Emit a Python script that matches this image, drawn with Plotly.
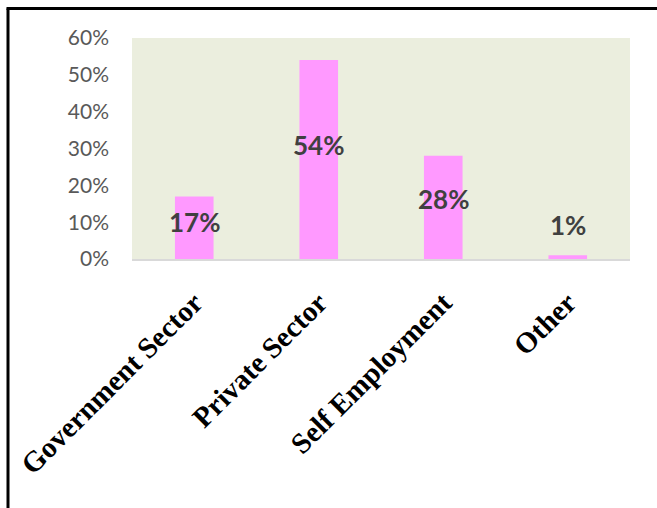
import plotly.graph_objects as go

categories = ["Government Sector", "Private Sector", "Self Employment", "Other"]
values = [0.17, 0.54, 0.28, 0.01]
tick_vals = [0, 0.1, 0.2, 0.3, 0.4, 0.5, 0.6]
tick_text = ["0%", "10%", "20%", "30%", "40%", "50%", "60%"]

W, H = 657, 508
L, R, T, B = 132, 27, 38, 249
pw, ph = W - L - R, H - T - B

fig = go.Figure()
fig.add_trace(go.Bar(
    x=categories, y=values,
    marker=dict(color="#FF99FF", line=dict(width=0)),
    hoverinfo="skip",
))

label_font = dict(family="Lato, Calibri, sans-serif", size=26, color="#404040")
for c, v in zip(categories, values):
    txt = f"<b>{round(v*100)}%</b>"
    if v >= 0.05:
        fig.add_annotation(x=c, y=0.56 * v + 0.006, text=txt, showarrow=False,
                           font=label_font, yanchor="middle")
    else:
        fig.add_annotation(x=c, y=v, text=txt, showarrow=False,
                           font=label_font, yanchor="bottom", yshift=12)

# outer frame lines (top and left)
x_left = (8 - L) / pw
x_right = (W - L) / pw
y_top = 1 + (T - 8.5) / ph
y_bot = -B / ph
fig.add_shape(type="line", xref="paper", yref="paper", x0=x_left - 0.003, x1=x_right,
              y0=y_top, y1=y_top, line=dict(color="black", width=3))
fig.add_shape(type="line", xref="paper", yref="paper", x0=x_left, x1=x_left,
              y0=y_top, y1=y_bot, line=dict(color="black", width=3))

fig.update_layout(
    width=W, height=H,
    margin=dict(l=L, r=R, t=T, b=B, autoexpand=False),
    paper_bgcolor="white",
    plot_bgcolor="#EBEEDE",
    bargap=0.69,
    showlegend=False,
    xaxis=dict(
        showline=True, linecolor="#D9D9D9", linewidth=2,
        showgrid=False, ticks="", tickangle=-45,
        tickfont=dict(family="Liberation Serif, Times New Roman, serif", size=29, color="black"),
        ticklabelstandoff=13,
        automargin=False,
        tickprefix="<b>", ticksuffix="</b>",
    ),
    yaxis=dict(
        range=[0, 0.6], tickvals=tick_vals, ticktext=tick_text,
        showgrid=False, zeroline=False, showline=False, ticks="",
        tickfont=dict(family="Lato, Calibri, sans-serif", size=21, color="#595959"),
        ticklabelstandoff=22,
        automargin=False,
    ),
)

fig.write_html(
    "out.html",
    config={"displayModeBar": False},
    post_script="document.body.style.margin='0';document.body.style.overflow='hidden';",
)
